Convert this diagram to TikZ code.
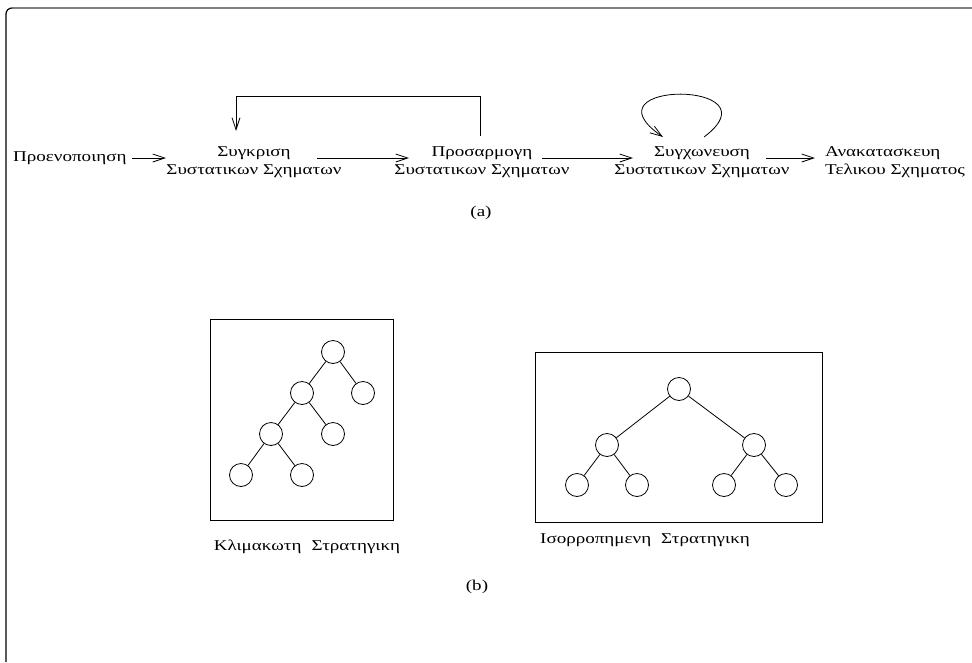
\documentclass[tikz,border=0pt]{standalone}
\usepackage{fontspec}
\setmainfont{Liberation Serif}
\newfontfamily\widegreek[FakeStretch=1.27]{Liberation Serif}
\usetikzlibrary{arrows.meta}
\begin{document}
\begin{tikzpicture}[x=1pt,y=-1pt,
  lbl/.style={font=\widegreek\fontsize{15}{18}\selectfont, align=center, inner sep=0pt},
  captxt/.style={font=\widegreek\fontsize{15}{18}\selectfont, inner sep=0pt},
  arr/.style={-{Straight Barb[length=12pt,width=8pt]}, line width=0.8pt},
  tn/.style={circle, draw, minimum size=23pt, inner sep=0pt, line width=0.8pt},
  treeline/.style={line width=0.8pt},
  framebox/.style={draw, line width=0.9pt}
]
\useasboundingbox (0,0) rectangle (972,662);

% outer frame
\draw[line width=1.2pt, gray] (12,8) -- (972,8);
\draw[line width=1.2pt] (6,662) -- (6,14) arc[start angle=180, end angle=270, radius=6];

% (a) processing pipeline
\node[lbl, anchor=west] (pre) at (13,158) {Προενοποιηση};
\node[lbl] (cmp) at (254,162.5) {Συγκριση\\Συστατικων Σχηματων};
\node[lbl] (adj) at (482,162.5) {Προσαρμογη\\Συστατικων Σχηματων};
\node[lbl] (mrg) at (702,162.5) {Συγχωνευση\\Συστατικων Σχηματων};
\node[lbl, anchor=west, align=left] (rec) at (825,162.5) {Ανακατασκευη\\Τελικου Σχηματος};

\coordinate (a1s) at (132,158); \coordinate (a1e) at (166,158);
\coordinate (a2s) at (317,158); \coordinate (a2e) at (409,158);
\coordinate (a3s) at (542,158); \coordinate (a3e) at (633,158);
\coordinate (a4s) at (766,158); \coordinate (a4e) at (815,158);
\draw[arr] (a1s) -- (a1e);
\draw[arr] (a2s) -- (a2e);
\draw[arr] (a3s) -- (a3e);
\draw[arr] (a4s) -- (a4e);

% feedback from adjustment back to comparison
\coordinate (fbs) at (480,136);
\coordinate (fbe) at (236,131);
\draw[arr] (fbs) -- (480,96) -| (fbe);

% self loop on merging
\coordinate (sls) at (704,137);
\coordinate (sle) at (663,137);
\draw[arr] (sls) .. controls (780,80) and (580,80) .. (sle);

\node[captxt] (capa) at (481,213) {(a)};

% (b) left: stepwise strategy
\node[framebox, minimum width=183pt, minimum height=201pt, inner sep=0pt] (lbox) at (301.5,420) {};
\node[tn] (l1) at (333,352) {};
\node[tn] (l2) at (302,393) {};
\node[tn] (l3) at (363,393) {};
\node[tn] (l4) at (271,434) {};
\node[tn] (l5) at (333,434) {};
\node[tn] (l6) at (241,475) {};
\node[tn] (l7) at (302,475) {};
\draw[treeline] (l1) -- (l2) (l1) -- (l3) (l2) -- (l4) (l2) -- (l5) (l4) -- (l6) (l4) -- (l7);
\node[captxt] (lcap) at (307,547) {Κλιμακωτη\hspace{0.35em} Στρατηγικη};

% (b) right: balanced strategy
\node[framebox, minimum width=287pt, minimum height=170pt, inner sep=0pt] (rbox) at (678.5,437) {};
\node[tn] (r1) at (679,389) {};
\node[tn] (r2) at (607,445) {};
\node[tn] (r3) at (754,445) {};
\node[tn] (r4) at (577,485) {};
\node[tn] (r5) at (637,485) {};
\node[tn] (r6) at (724,485) {};
\node[tn] (r7) at (786,485) {};
\draw[treeline] (r1) -- (r2) (r1) -- (r3) (r2) -- (r4) (r2) -- (r5) (r3) -- (r6) (r3) -- (r7);
\node[captxt] (rcap) at (645,540) {Ισορροπημενη\hspace{0.35em} Στρατηγικη};

\node[captxt] (capb) at (477,587) {(b)};
\end{tikzpicture}
\end{document}
